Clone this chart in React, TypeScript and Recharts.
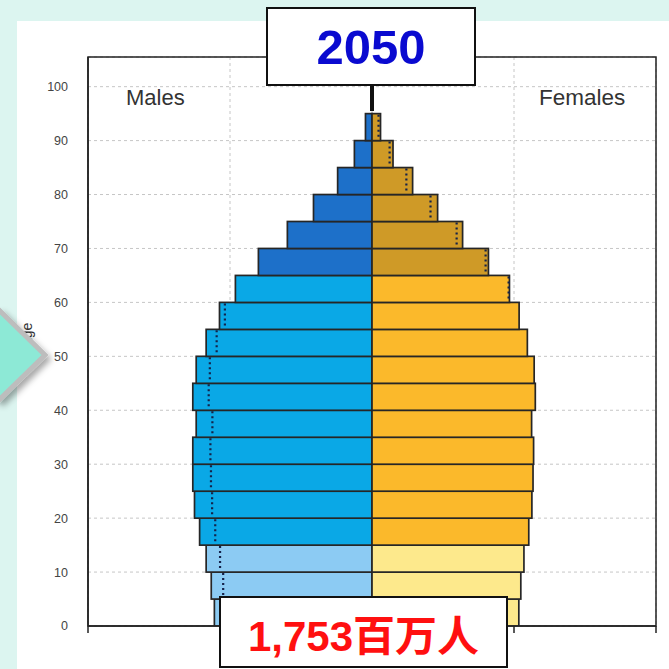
import React from 'react';
import { BarChart, Bar, XAxis, YAxis, CartesianGrid, ReferenceArea } from 'recharts';

const ageStarts = [0, 5, 10, 15, 20, 25, 30, 35, 40, 45, 50, 55, 60, 65, 70, 75, 80, 85, 90];
const maleValues = [55.5, 56.6, 58.4, 60.7, 62.5, 63.1, 63.1, 61.9, 63.1, 61.9, 58.4, 53.7, 48.1, 40.0, 29.8, 20.6, 12.1, 6.2, 2.3];
const femaleValues = [51.7, 52.4, 53.5, 55.2, 56.3, 56.7, 56.9, 56.2, 57.5, 57.1, 54.7, 51.8, 48.4, 41.0, 31.9, 23.1, 14.3, 7.4, 3.0];
const ageTicks = [0, 10, 20, 30, 40, 50, 60, 70, 80, 90, 100];
const popTicks = [-100, -50, 0, 50, 100];

const data = ageStarts.map((a, i) => ({
  age: a + 2.5,
  ageStart: a,
  male: -maleValues[i],
  female: femaleValues[i],
}));

const FONT = '"Liberation Sans", Arial, sans-serif';

const colorFor = (sex: string, ageStart: number) => {
  if (sex === 'male') {
    if (ageStart < 15) return '#8ccbf3';
    if (ageStart < 65) return '#0aa8e6';
    return '#1d70c9';
  }
  if (ageStart < 15) return '#fde98c';
  if (ageStart < 65) return '#fbb92b';
  return '#cf9a27';
};

const makeShape = (sex: string) => (props: any) => {
  const { x, y, width, height, payload } = props;
  if (x == null || width == null) return null;
  const left = Math.min(x, x + width);
  const w = Math.abs(width);
  const top = Math.min(y, y + height);
  const h = Math.abs(height);
  const own = Math.abs(sex === 'male' ? payload.male : payload.female);
  const other = Math.abs(sex === 'male' ? payload.female : payload.male);
  const ppu = own ? w / own : 0;
  let dot = null;
  if (other < own) {
    const dx = sex === 'male' ? left + w - other * ppu : left + other * ppu;
    dot = (
      <line x1={dx} x2={dx} y1={top + 1} y2={top + h - 1} stroke="#15224a" strokeWidth={2.2} strokeDasharray="2 3" />
    );
  }
  return (
    <g>
      <rect x={left} y={top} width={w} height={h} fill={colorFor(sex, payload.ageStart)} stroke="#262626" strokeWidth={1.7} />
      {dot}
    </g>
  );
};

const maleShape = makeShape('male');
const femaleShape = makeShape('female');

export default function App() {
  return (
    <div style={{ position: 'absolute', left: 0, top: 0, width: 669, height: 669, background: '#dcf5f0', overflow: 'hidden', fontFamily: FONT }}>
      <div style={{ position: 'absolute', left: 17, top: 21, width: 652, height: 648, background: '#ffffff' }} />
      <div style={{ position: 'absolute', left: 0, top: 0 }}>
        <BarChart
          width={669}
          height={669}
          data={data}
          layout="vertical"
          stackOffset="sign"
          barCategoryGap={0}
          margin={{ top: 57, right: 13, bottom: 13, left: 0 }}
        >
          <CartesianGrid stroke="#c6c6c6" strokeDasharray="3 3" />
          <XAxis
            type="number"
            domain={[-100, 100]}
            ticks={popTicks}
            height={30}
            tickFormatter={() => ''}
            stroke="#222"
            strokeWidth={1.5}
            tickSize={7}
            allowDataOverflow
          />
          <YAxis
            type="number"
            dataKey="age"
            domain={[0, 105.5]}
            ticks={ageTicks}
            reversed
            width={88}
            tickLine={false}
            tickMargin={14}
            tick={{ fill: '#444', fontSize: 12.5, fontFamily: FONT }}
            stroke="#222"
            strokeWidth={1.5}
            allowDataOverflow
            label={{ value: 'Age', angle: -90, position: 'insideLeft', offset: 27, dy: 6, style: { fill: '#333', fontSize: 14, fontFamily: FONT } }}
          />
          <ReferenceArea x1={-100} x2={100} y1={0} y2={105.5} fill="none" stroke="#222" strokeWidth={1.5} fillOpacity={0} ifOverflow="extendDomain" />
          <Bar dataKey="male" stackId="a" shape={maleShape} isAnimationActive={false} />
          <Bar dataKey="female" stackId="a" shape={femaleShape} isAnimationActive={false} />
        </BarChart>
      </div>
      <svg width={669} height={669} style={{ position: 'absolute', left: 0, top: 0, pointerEvents: 'none' }}>
        <defs>
          <filter id="sh" x="-30%" y="-30%" width="160%" height="160%">
            <feDropShadow dx="3" dy="4" stdDeviation="3" floodColor="#000" floodOpacity="0.35" />
          </filter>
        </defs>
        <polygon points="-45,355 0,311 45,355 0,399" fill="#8de9d6" stroke="#bdbdbd" strokeWidth={5} filter="url(#sh)" />
        <line x1={372} x2={372} y1={84} y2={111} stroke="#111" strokeWidth={4} />
      </svg>
      <div style={{ position: 'absolute', left: 126, top: 85, fontSize: 22, color: '#333', fontFamily: FONT }}>Males</div>
      <div style={{ position: 'absolute', left: 539, top: 85, fontSize: 22.5, color: '#333', fontFamily: FONT }}>Females</div>
      <div style={{ position: 'absolute', left: 266, top: 7, width: 206, height: 75, background: '#fff', border: '2px solid #111', display: 'flex', alignItems: 'center', justifyContent: 'center' }}>
        <span style={{ fontSize: 49, fontWeight: 'bold', color: '#0a0ad0', fontFamily: FONT }}>2050</span>
      </div>
      <div style={{ position: 'absolute', left: 219, top: 596, width: 285, height: 68, background: '#fff', border: '2px solid #111', display: 'flex', alignItems: 'center', justifyContent: 'center' }}>
        <span style={{ fontSize: 42, fontWeight: 'bold', color: '#ff1010', fontFamily: '"Liberation Sans", Arial, "Noto Sans CJK SC", sans-serif' }}>1,753百万人</span>
      </div>
    </div>
  );
}
